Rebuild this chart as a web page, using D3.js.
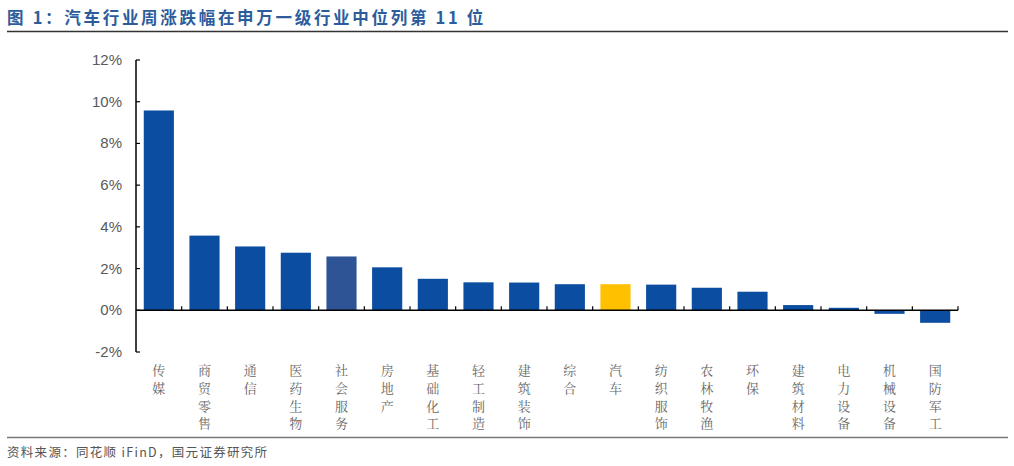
<!DOCTYPE html>
<html>
<head>
<meta charset="utf-8">
<script src="https://cdn.jsdelivr.net/npm/d3@7"></script>
<style>
  body { margin: 0; background: #fff; }
  svg { display: block; }
</style>
</head>
<body>
<svg id="chart" width="1014" height="466"></svg>
<script>
// Données : variation hebdomadaire par secteur (%)
var categories = ["传媒", "商贸零售", "通信", "医药生物", "社会服务", "房地产", "基础化工", "轻工制造", "建筑装饰",
                  "综合", "汽车", "纺织服饰", "农林牧渔", "环保", "建筑材料", "电力设备", "机械设备", "国防军工"];
var valeurs = [9.58, 3.58, 3.06, 2.76, 2.58, 2.06, 1.51, 1.34, 1.33,
               1.25, 1.25, 1.23, 1.08, 0.89, 0.25, 0.12, -0.17, -0.60];
var ticks_y = [-2, 0, 2, 4, 6, 8, 10, 12];

var titre = "图 1：汽车行业周涨跌幅在申万一级行业中位列第 11 位";
var source = "资料来源：同花顺 iFinD，国元证券研究所";

var svg = d3.select("#chart");
var cjk = "'Noto Sans CJK SC', sans-serif";

// Titre
svg.append("text")
    .attr("x", 7)
    .attr("y", 24)
    .attr("font-family", cjk)
    .attr("font-size", "16.5px")
    .attr("font-weight", "bold")
    .attr("letter-spacing", "2.7px")
    .attr("fill", "#2C5C9C")
    .text(titre);

svg.append("line")
    .attr("x1", 7).attr("x2", 1008)
    .attr("y1", 31.5).attr("y2", 31.5)
    .attr("stroke", "#333").attr("stroke-width", 1.5);

// Échelles
var x = d3.scaleBand().domain(categories).range([136, 958]).paddingInner(0.34).paddingOuter(0.17);
var y = d3.scaleLinear().domain([-2, 12]).range([352, 60]);

var g = svg.append("g");

// Barres
g.selectAll("rect")
    .data(valeurs)
    .enter()
    .append("rect")
    .attr("x", (d, i) => x(categories[i]))
    .attr("width", x.bandwidth())
    .attr("y", d => y(Math.max(0, d)))
    .attr("height", d => Math.abs(y(d) - y(0)))
    .attr("fill", (d, i) => categories[i] === "汽车" ? "#FFC000" : (categories[i] === "社会服务" ? "#2E5496" : "#0B4DA1"));

// Axe Y
g.append("line")
    .attr("x1", 136).attr("x2", 136)
    .attr("y1", y(12)).attr("y2", y(-2))
    .attr("stroke", "#000").attr("stroke-width", 1.5);

ticks_y.forEach(t => {
    g.append("line")
        .attr("x1", 136).attr("x2", 140)
        .attr("y1", y(t)).attr("y2", y(t))
        .attr("stroke", "#000").attr("stroke-width", 1.2);
    g.append("text")
        .attr("x", 122)
        .attr("y", y(t) + 5)
        .attr("text-anchor", "end")
        .attr("font-family", "'Liberation Sans', Arial, sans-serif")
        .attr("font-size", "15px")
        .attr("fill", "#595959")
        .text(t + "%");
});

// Axe X (à zéro)
g.append("line")
    .attr("x1", 136).attr("x2", 958)
    .attr("y1", y(0)).attr("y2", y(0))
    .attr("stroke", "#000").attr("stroke-width", 1.5);

var step = x.step();
categories.forEach((c, i) => {
    var xt = 136 + step * (i + 1);
    g.append("line")
        .attr("x1", xt).attr("x2", xt)
        .attr("y1", y(0)).attr("y2", y(0) - 4)
        .attr("stroke", "#000").attr("stroke-width", 1.2);
});

// Libellés verticaux, un caractère par ligne
categories.forEach(c => {
    var cx = x(c) + x.bandwidth() / 2;
    c.split("").forEach((ch, j) => {
        g.append("text")
            .attr("x", cx)
            .attr("y", 375 + j * 17.8)
            .attr("text-anchor", "middle")
            .attr("font-family", "'Noto Serif CJK SC', 'Noto Sans CJK SC', serif")
            .attr("font-size", "13px")
            .attr("fill", "#666")
            .text(ch);
    });
});

// Pied
svg.append("line")
    .attr("x1", 7).attr("x2", 1008)
    .attr("y1", 437.5).attr("y2", 437.5)
    .attr("stroke", "#777").attr("stroke-width", 1.5);

svg.append("text")
    .attr("x", 7)
    .attr("y", 457)
    .attr("font-family", cjk)
    .attr("font-size", "12.5px")
    .attr("letter-spacing", "1.3px")
    .attr("fill", "#555")
    .text(source);
</script>
</body>
</html>
